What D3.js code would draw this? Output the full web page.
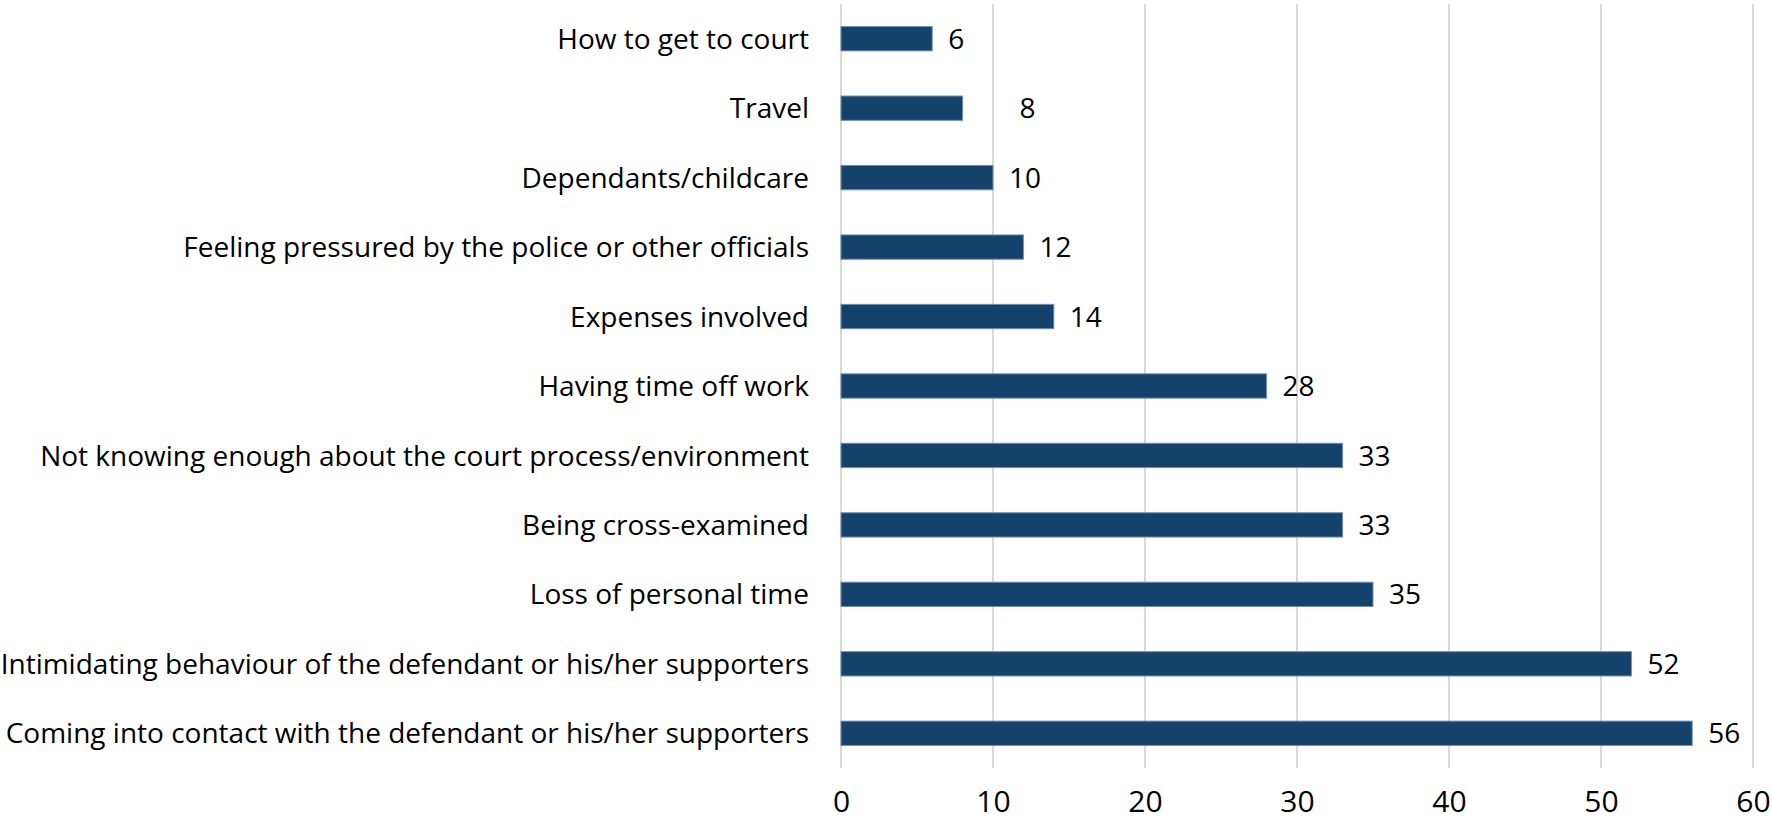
<!DOCTYPE html>
<html>
<head>
<meta charset="utf-8">
<script src="https://cdn.jsdelivr.net/npm/d3@7"></script>
<style>
  body { margin: 0; background: #fff; }
  text { font-family: "Open Sans", "Noto Sans", sans-serif; fill: #000; }
  .grid line { stroke: #d9d9d9; stroke-width: 2; }
  .bar { fill: #14426a; stroke: #6f8fb0; stroke-width: 1; }
</style>
</head>
<body>
<div id="bar-chart"></div>
<script>
const categories = [
  "How to get to court",
  "Travel",
  "Dependants/childcare",
  "Feeling pressured by the police or other officials",
  "Expenses involved",
  "Having time off work",
  "Not knowing enough about the court process/environment",
  "Being cross-examined",
  "Loss of personal time",
  "Intimidating behaviour of the defendant or his/her supporters",
  "Coming into contact with the defendant or his/her supporters"
]
const values = [6, 8, 10, 12, 14, 28, 33, 33, 35, 52, 56]
const ticks = [0, 10, 20, 30, 40, 50, 60]

const width = 1772
const height = 822
const margin = {top: 4, bottom: 54, left: 841, right: 19}

// the "8" label sits further out in the original
const labelNudge = {"Travel": 41}

const data = categories.map((c, i) => ({category: c, value: values[i]}))

const xScale = d3.scaleLinear()
  .domain([0, 60])
  .range([margin.left, width - margin.right])

const yScale = d3.scaleBand()
  .domain(categories)
  .range([margin.top, height - margin.bottom])
  .paddingInner(0.65)
  .paddingOuter(0.325)

const svg = d3.select('#bar-chart').append('svg')
  .attr('width', width)
  .attr('height', height)

const grid = svg.append('g').attr('class', 'grid')

grid.selectAll('line')
  .data(ticks)
  .enter()
  .append('line')
  .attr('x1', d => xScale(d))
  .attr('x2', d => xScale(d))
  .attr('y1', margin.top)
  .attr('y2', height - margin.bottom)

const xAxis = d3.axisBottom(xScale)
  .tickValues(ticks)
  .tickSize(0)
  .tickPadding(0)

const axisG = svg.append('g')
  .attr('transform', `translate(0, ${height - margin.bottom})`)
  .call(xAxis)

axisG.select('.domain').remove()
axisG.selectAll('text')
  .attr('font-size', 30)
  .attr('font-family', '"Open Sans", sans-serif')
  .attr('dy', null)
  .attr('y', 44)

svg.append('g')
  .selectAll('.bar')
  .data(data)
  .enter()
  .append('rect')
  .attr('class', 'bar')
  .attr('x', xScale(0))
  .attr('y', d => yScale(d.category))
  .attr('width', d => xScale(d.value) - xScale(0))
  .attr('height', yScale.bandwidth())

svg.append('g')
  .selectAll('.valueText')
  .data(data)
  .enter()
  .append('text')
  .attr('class', 'valueText')
  .attr('x', d => xScale(d.value) + 16 + (labelNudge[d.category] || 0))
  .attr('y', d => yScale(d.category) + yScale.bandwidth() / 2)
  .attr('dy', '0.36em')
  .attr('font-size', 28)
  .text(d => d.value)

svg.append('g')
  .selectAll('.catText')
  .data(data)
  .enter()
  .append('text')
  .attr('class', 'catText')
  .attr('x', xScale(0) - 32)
  .attr('y', d => yScale(d.category) + yScale.bandwidth() / 2)
  .attr('dy', '0.36em')
  .attr('text-anchor', 'end')
  .attr('font-size', 28)
  .text(d => d.category)
</script>
</body>
</html>
